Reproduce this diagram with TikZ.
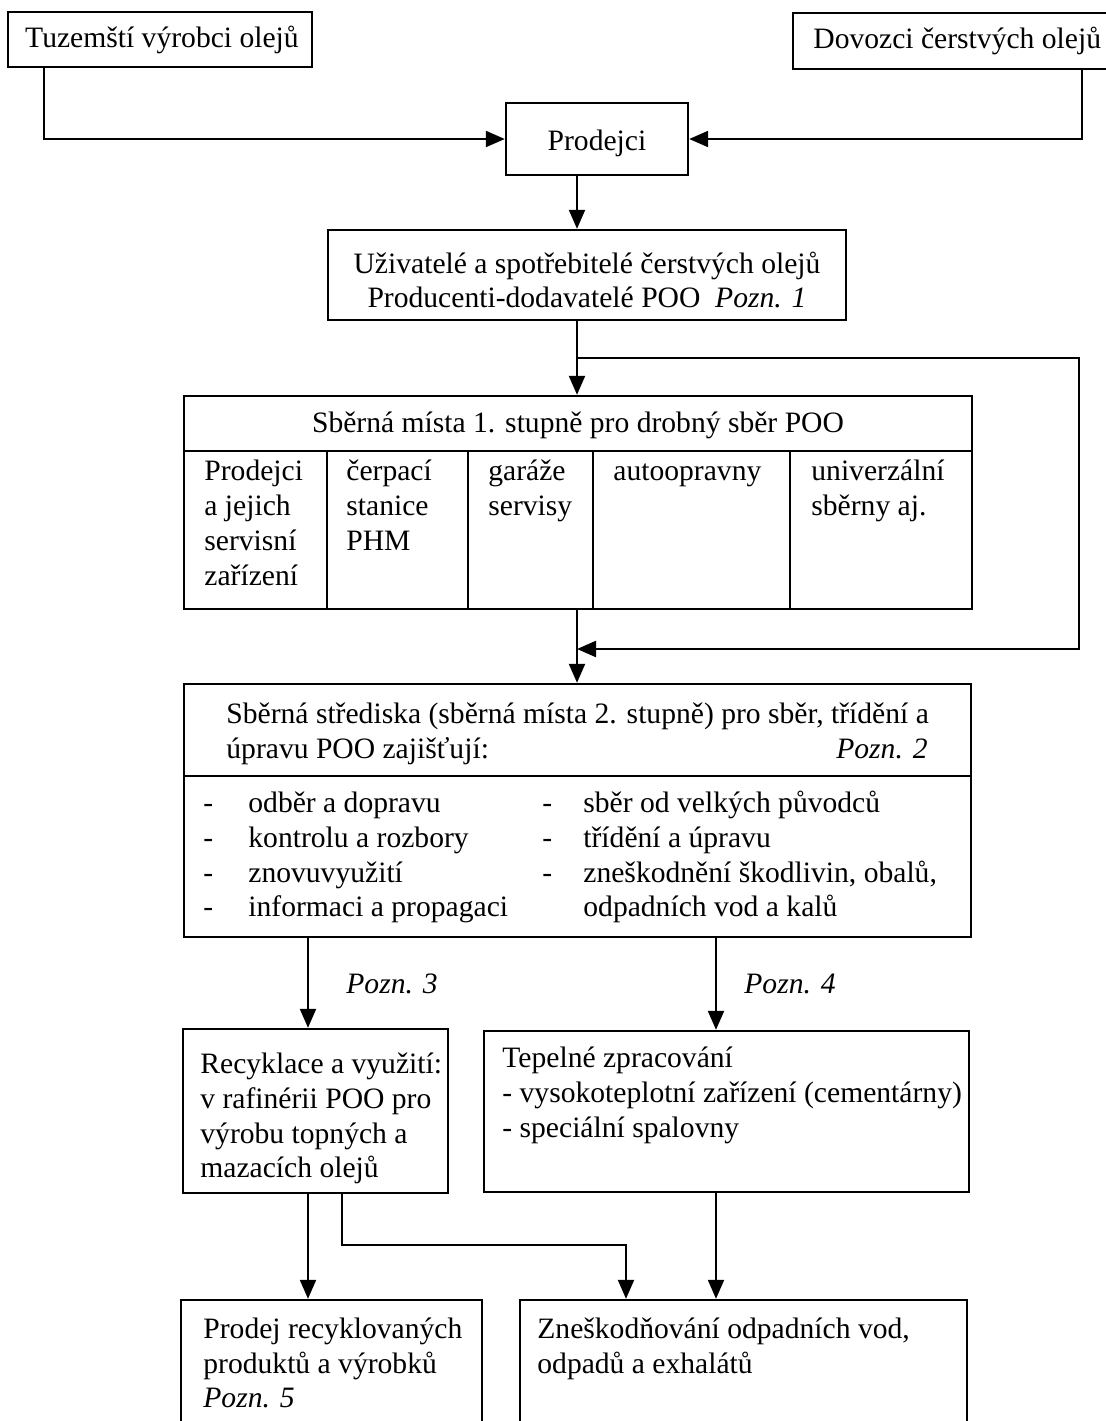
\documentclass[tikz,border=0pt]{standalone}
\usepackage{fontspec}
\setmainfont{Liberation Serif}
\usetikzlibrary{arrows.meta,fit}
\begin{document}
\begin{tikzpicture}[x=0.5pt,y=-0.5pt,
  box/.style={draw, line width=1.2pt, inner sep=0pt, rectangle},
  sep/.style={line width=1.2pt},
  con/.style={line width=1.1pt, -{Triangle[length=9.5pt,width=8pt]}},
  t/.style={inner sep=0pt, anchor=base west, font=\fontsize{14.8pt}{17.5pt}\selectfont},
  tc/.style={t, anchor=base},
  te/.style={t, anchor=base east}]
\useasboundingbox (0,0) rectangle (1106,1421);
\fill[white] (0,0) rectangle (1106,1421);

% boxes
\node[box, fit={(8,12)(312,67)}] (tuz) {};
\node[box, fit={(793,13)(1130,69)}] (dov) {};
\node[box, fit={(506,103)(688,175)}] (prod) {};
\node[box, fit={(328,230)(846,320)}] (uz) {};
\node[box, fit={(184,396)(972,609)}] (s1) {};
\node[box, fit={(184,684)(971,937)}] (s2) {};
\node[box, fit={(183,1029)(448,1193)}] (rec) {};
\node[box, fit={(484,1031)(969,1192)}] (tep) {};
\node[box, fit={(181,1300)(482,1450)}] (pro5) {};
\node[box, fit={(520,1300)(967,1450)}] (zne) {};

% inner dividers
\draw[sep] (s1.west |- 0,451) -- (s1.east |- 0,451);
\foreach \xx in {327,468,593,790} \draw[sep] (\xx,451) -- (s1.south -| \xx,0);
\draw[sep] (s2.west |- 0,776) -- (s2.east |- 0,776);

% texts
\node[tc] (ttuz) at (162,47) {Tuzemští výrobci olejů};
\node[t] (tdov) at (813,48) {Dovozci čerstvých olejů};
\node[tc] (tprod) at (597,150) {Prodejci};
\node[tc] (tuz1) at (587,273) {Uživatelé a spotřebitelé čerstvých olejů};
\node[tc] (tuz2) at (587,307) {Producenti-dodavatelé POO\ \ \textit{Pozn. 1}};

\node[tc] (ts1h) at (578,432) {Sběrná místa 1. stupně pro drobný sběr POO};
\node[t] (c1a) at (204,480) {Prodejci};
\node[t] (c1b) at (204,515) {a jejich};
\node[t] (c1c) at (204,550) {servisní};
\node[t] (c1d) at (204,585) {zařízení};
\node[t] (c2a) at (346,480) {čerpací};
\node[t] (c2b) at (346,515) {stanice};
\node[t] (c2c) at (346,550) {PHM};
\node[t] (c3a) at (488,480) {garáže};
\node[t] (c3b) at (488,515) {servisy};
\node[t] (c4a) at (613,480) {autoopravny};
\node[t] (c5a) at (811,480) {univerzální};
\node[t] (c5b) at (811,515) {sběrny aj.};

\node[t] (s2a) at (226,723) {Sběrná střediska (sběrná místa 2. stupně) pro sběr, třídění a};
\node[t] (s2b) at (226,758) {úpravu POO zajišťují:};
\node[te] (s2p) at (928,758) {\textit{Pozn. 2}};

\node[t] (d1) at (203,812) {-};
\node[t] (d2) at (203,847) {-};
\node[t] (d3) at (203,882) {-};
\node[t] (d4) at (203,916) {-};
\node[t] (l1) at (248,812) {odběr a dopravu};
\node[t] (l2) at (248,847) {kontrolu a rozbory};
\node[t] (l3) at (248,882) {znovuvyužití};
\node[t] (l4) at (248,916) {informaci a propagaci};
\node[t] (e1) at (542,812) {-};
\node[t] (e2) at (542,847) {-};
\node[t] (e3) at (542,882) {-};
\node[t] (r1) at (583,812) {sběr od velkých původců};
\node[t] (r2) at (583,847) {třídění a úpravu};
\node[t] (r3) at (583,882) {zneškodnění škodlivin, obalů,};
\node[t] (r4) at (583,916) {odpadních vod a kalů};

\node[t] (p3) at (346,993) {\textit{Pozn. 3}};
\node[t] (p4) at (744,993) {\textit{Pozn. 4}};

\node[t] (rc1) at (200,1073) {Recyklace a využití:};
\node[t] (rc2) at (200,1108) {v rafinérii POO pro};
\node[t] (rc3) at (200,1143) {výrobu topných a};
\node[t] (rc4) at (200,1177) {mazacích olejů};

\node[t] (tp1) at (502,1067) {Tepelné zpracování};
\node[t] (tp2) at (502,1102) {- vysokoteplotní zařízení (cementárny)};
\node[t] (tp3) at (502,1137) {- speciální spalovny};

\node[t] (pr1) at (203,1338) {Prodej recyklovaných};
\node[t] (pr2) at (203,1373) {produktů a výrobků};
\node[t] (pr3) at (203,1407) {\textit{Pozn. 5}};

\node[t] (zn1) at (537,1338) {Zneškodňování odpadních vod,};
\node[t] (zn2) at (537,1373) {odpadů a exhalátů};

% connectors
\coordinate (ax0) at (44,0);
\coordinate (ax1) at (1082,0);
\coordinate (mx) at (577,0);
\coordinate (br) at (577,358);
\coordinate (rc) at (1079,649);
\coordinate (jn) at (577,649);
\coordinate (lx) at (308,0);
\coordinate (rx) at (716,0);
\coordinate (kx) at (342,1245);
\coordinate (kx2) at (626,1245);

\draw[con] (tuz.south -| ax0) |- (prod.west);
\draw[con] (dov.south -| ax1) |- (prod.east);
\draw[con] (prod.south -| mx) -- (uz.north -| mx);
\draw[con] (uz.south -| mx) -- (s1.north -| mx);
\draw[con] (br) -| (rc) -- (jn);
\draw[con] (s1.south -| mx) -- (s2.north -| mx);
\draw[con] (s2.south -| lx) -- (rec.north -| lx);
\draw[con] (s2.south -| rx) -- (tep.north -| rx);
\draw[con] (rec.south -| lx) -- (pro5.north -| lx);
\draw[con] (rec.south -| kx) |- (kx2) -- (zne.north -| kx2);
\draw[con] (tep.south -| rx) -- (zne.north -| rx);
\end{tikzpicture}
\end{document}
